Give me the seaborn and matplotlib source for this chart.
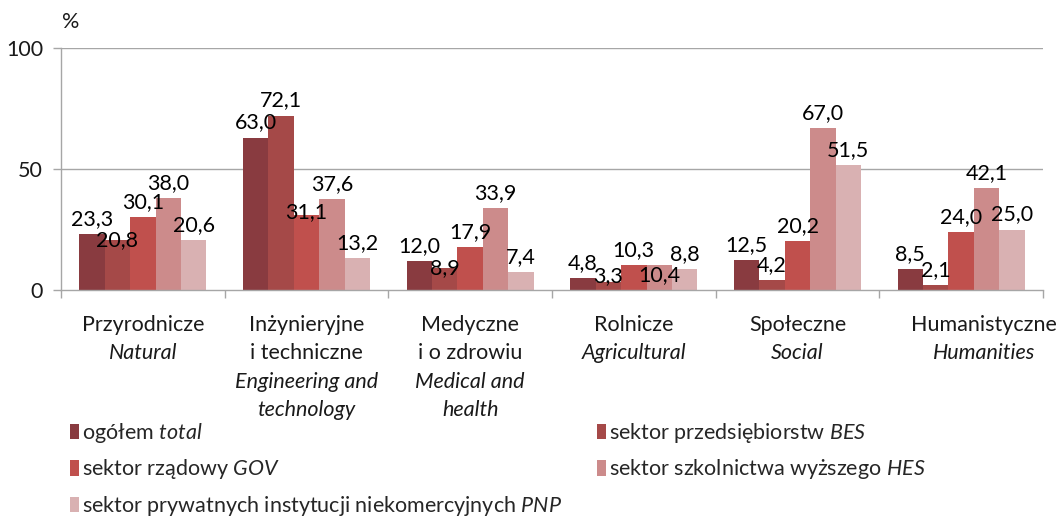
import matplotlib
matplotlib.use("Agg")
import matplotlib.pyplot as plt
import seaborn as sns
import pandas as pd
from matplotlib.patches import Patch
from matplotlib import transforms

# ---- data ----
categories_pl = ["Przyrodnicze", "Inżynieryjne\ni techniczne", "Medyczne\ni o zdrowiu",
                 "Rolnicze", "Społeczne", "Humanistyczne"]
categories_en = ["Natural", "Engineering and\ntechnology", "Medical and\nhealth",
                 "Agricultural", "Social", "Humanities"]
series_pl = ["ogółem", "sektor przedsiębiorstw", "sektor rządowy",
             "sektor szkolnictwa wyższego", "sektor prywatnych instytucji niekomercyjnych"]
series_en = ["total", "BES", "GOV", "HES", "PNP"]
total = [23.3, 63.0, 12.0, 4.8, 12.5, 8.5]
bes = [20.8, 72.1, 8.9, 3.3, 4.2, 2.1]
gov = [30.1, 31.1, 17.9, 10.3, 20.2, 24.0]
hes = [38.0, 37.6, 33.9, 10.4, 67.0, 42.1]
pnp = [20.6, 13.2, 7.4, 8.8, 51.5, 25.0]
y_ticks = [0, 50, 100]

# ---- style ----
colors = ["#893B40", "#A54948", "#C0504D", "#CC8B8B", "#D9B1B2"]
FONT = "Lato"
FS = 15.5
TXT = "#1a1a1a"
GRID = "#a6a6a6"
# vertical position of value labels (pixels of label centre above bar top)
default_label_px = 15
label_px = {("BES", 0): 0, ("GOV", 1): 3, ("BES", 2): 0, ("BES", 3): 6, ("HES", 3): -10}

sns.set_theme(style="white")
plt.rcParams["font.family"] = [FONT, "DejaVu Sans"]
plt.rcParams["mathtext.fontset"] = "custom"
plt.rcParams["mathtext.rm"] = FONT
plt.rcParams["mathtext.it"] = FONT + ":italic"

values = [total, bes, gov, hes, pnp]
rows = []
for s, vals in zip(series_en, values):
    for i, v in enumerate(vals):
        rows.append({"cat": i, "series": s, "value": v})
df = pd.DataFrame(rows)

fig = plt.figure(figsize=(10.61, 5.2), dpi=100)
ax = fig.add_axes([61 / 1061, 1 - 290 / 520, (1043 - 61) / 1061, (290 - 48) / 520])

sns.barplot(data=df, x="cat", y="value", hue="series", hue_order=series_en,
            palette=colors, saturation=1, width=0.776, gap=0, linewidth=0,
            legend=False, ax=ax, order=list(range(len(categories_pl))))

ax.set_ylim(0, 100)
ax.set_xlim(-0.5, len(categories_pl) - 0.5)
ax.set_yticks(y_ticks)
ax.set_yticklabels([str(t) for t in y_ticks], fontsize=FS, color=TXT)
ax.tick_params(axis="y", length=6, width=1, color=GRID, pad=7, left=True)
for t in [50, 100]:
    ax.axhline(t, color=GRID, lw=1, zorder=0)
ax.set_xticks(range(len(categories_pl)))
ax.set_xticklabels([""] * len(categories_pl))
ax.set_xticks([i - 0.5 for i in range(len(categories_pl) + 1)], minor=True)
ax.tick_params(axis="x", which="major", length=0)
ax.tick_params(axis="x", which="minor", length=6, width=1, color=GRID, bottom=True)
ax.set_xlabel("")
ax.set_ylabel("")
for side in ["top", "right"]:
    ax.spines[side].set_visible(False)
for side in ["left", "bottom"]:
    ax.spines[side].set_color(GRID)
    ax.spines[side].set_linewidth(1)

# value labels
for s, cont in zip(series_en, ax.containers):
    for i, bar in enumerate(cont):
        v = bar.get_height()
        off = label_px.get((s, i), default_label_px)
        ax.annotate(f"{v:.1f}".replace(".", ","),
                    (bar.get_x() + bar.get_width() / 2, v),
                    xytext=(0, off), textcoords="offset pixels",
                    ha="center", va="center", fontsize=FS, color="black",
                    zorder=5)

# category labels (Polish regular, English italic)
trans = transforms.blended_transform_factory(ax.transData, fig.transFigure)
line_y = [325, 353, 382, 410]
x_shift = [0, 0, 0, 0, 0, 0.14]
for i, (pl, en) in enumerate(zip(categories_pl, categories_en)):
    lines = [(l, "normal") for l in pl.split("\n")] + [(l, "italic") for l in en.split("\n")]
    for k, (txt, st) in enumerate(lines):
        ax.text(i + x_shift[i], 1 - line_y[k] / 520, txt, transform=trans,
                ha="center", va="center", fontsize=FS, style=st, color=TXT)

fig.text(62 / 1061, 1 - 22 / 520, "%", fontsize=FS, color=TXT, va="center", ha="left")

# legend
labels = []
for pl, en in zip(series_pl, series_en):
    labels.append(pl + " $\\it{" + en + "}$")
handles = [Patch(facecolor=c, edgecolor="none") for c in colors]
order = [0, 2, 4, 1, 3]
fig.legend([handles[i] for i in order], [labels[i] for i in order],
           loc="upper left", bbox_to_anchor=(70 / 1061, 1 - 421 / 520),
           ncol=2, frameon=False, fontsize=FS, handlelength=0.42, handleheight=0.75,
           handletextpad=0.15, labelspacing=0.58, columnspacing=1.6,
           borderaxespad=0, borderpad=0)

fig.savefig("out.png", dpi=100)
